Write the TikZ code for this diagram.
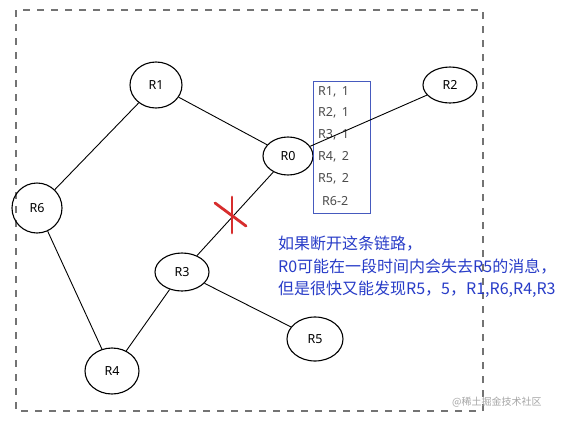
\documentclass[tikz,border=0pt]{standalone}
\usepackage{fontspec}
\setmainfont{Noto Sans}
\newfontfamily\cjk{Noto Sans CJK SC}
\usetikzlibrary{shapes.geometric}
\definecolor{netblue}{RGB}{40,60,200}
\definecolor{boxblue}{RGB}{70,90,190}
\definecolor{xred}{RGB}{215,45,45}
\begin{document}
\begin{tikzpicture}[x=1pt,y=-1pt,
  router/.style={ellipse,draw=black,line width=1.1pt,inner sep=0pt,font=\fontsize{12.5}{14}\selectfont},
  link/.style={draw=black,line width=0.9pt},
  tabtext/.style={anchor=west,text=black!70,font=\fontsize{12.5}{14}\selectfont,inner sep=0pt},
  note/.style={anchor=west,text=netblue,font=\cjk\fontsize{16}{18}\selectfont,inner sep=0pt}]
\useasboundingbox (0,0) rectangle (571,421);
\fill[white] (0,0) rectangle (571,421);
% dashed frame
\draw[black!55,line width=1.2pt,dash pattern=on 7pt off 7pt] (16,10) rectangle (483,411);
% routers
\node[router,minimum width=52pt,minimum height=46pt] (R1) at (156,85) {R1};
\node[router,minimum width=50pt,minimum height=50pt] (R6) at (37,208) {R6};
\node[router,minimum width=50pt,minimum height=38pt] (R0) at (288,156) {R0};
\node[router,minimum width=54pt,minimum height=36pt] (R2) at (450,85) {R2};
\node[router,minimum width=54pt,minimum height=38pt] (R3) at (182,272) {R3};
\node[router,minimum width=56pt,minimum height=44pt] (R5) at (315,339) {R5};
\node[router,minimum width=54pt,minimum height=46pt] (R4) at (112,371) {R4};
% routing table box
\node[draw=boxblue,line width=1pt,minimum width=57pt,minimum height=132pt,inner sep=0pt,anchor=north west] (tab) at (313,81) {};
\node[tabtext] (t1) at (318,92) {R1,\, 1};
\node[tabtext] (t2) at (318,113) {R2,\, 1};
\node[tabtext] (t3) at (318,135) {R3,\, 1};
\node[tabtext] (t4) at (318,157) {R4,\, 2};
\node[tabtext] (t5) at (318,179) {R5,\, 2};
\node[tabtext] (t6) at (322,201) {R6-2};
% links
\draw[link] (R1) -- (R6);
\draw[link] (R1) -- (R0);
\draw[link] (R0) -- (R2);
\draw[link] (R0) -- (R3);
\draw[link] (R6) -- (R4);
\draw[link] (R3) -- (R4);
\draw[link] (R3) -- (R5);
% red cross
\coordinate (xa) at (232,197);
\coordinate (xb) at (232,233);
\coordinate (xc) at (215,203);
\coordinate (xd) at (246,226);
\draw[xred,line width=2.8pt,line cap=round] (xa) -- (xb);
\draw[xred,line width=2.8pt,line cap=round] (xc) -- (xd);
% note
\node[note] (n1) at (278,244) {如果断开这条链路，};
\node[note] (n2) at (278,267) {R0可能在一段时间内会失去R5的消息，};
\node[note] (n3) at (278,289) {但是很快又能发现R5，5，R1,R6,R4,R3};
% watermark
\node[anchor=west,text=black!35,font=\cjk\fontsize{10}{12}\selectfont,inner sep=0pt] (wm) at (452,402) {@稀土掘金技术社区};
\end{tikzpicture}
\end{document}
